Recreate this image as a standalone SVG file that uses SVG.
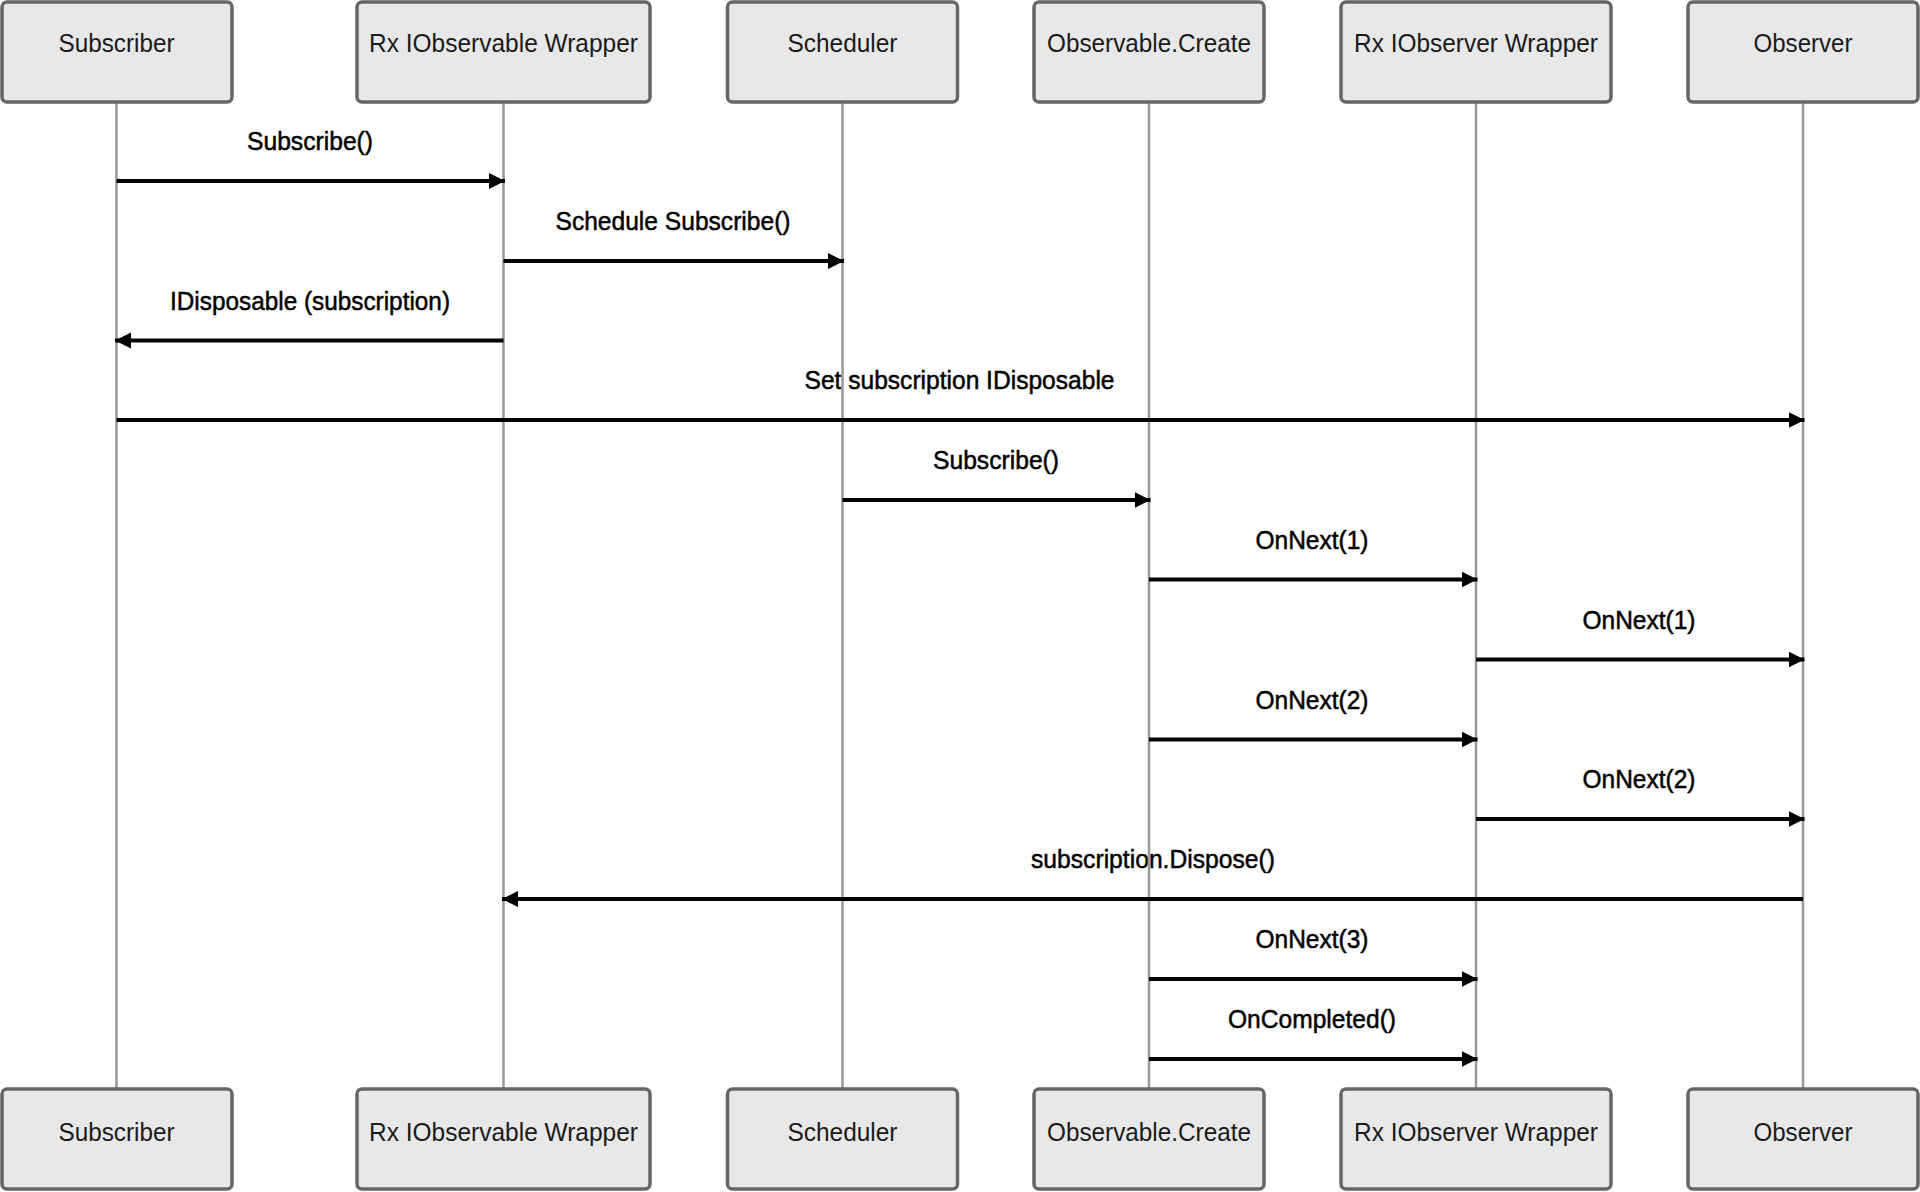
<svg xmlns="http://www.w3.org/2000/svg" width="1920" height="1192" viewBox="0 0 1920 1192">
<style>
.box{fill:#e8e8e8;stroke:#666;stroke-width:3.5}
.bt{font-family:"Liberation Sans",Arial,sans-serif;font-size:26px;fill:#1a1a1a;text-anchor:middle}
.lt{font-family:"Liberation Sans",Arial,sans-serif;font-size:26px;fill:#000;stroke:#000;stroke-width:0.5;text-anchor:middle}
.life{stroke:#999;stroke-width:2.5;fill:none}
.msg{stroke:#000;stroke-width:4;fill:none;marker-end:url(#ah)}
</style>
<defs>
<marker id="ah" markerUnits="userSpaceOnUse" markerWidth="18" markerHeight="18" refX="16" refY="8" orient="auto">
<path d="M0,0 L16,8 L0,16 Z" fill="#000"/>
</marker>
</defs>
<rect width="1920" height="1192" fill="#fff"/>
<g id="labels">
<text class="lt" x="310" y="150" textLength="126" lengthAdjust="spacingAndGlyphs">Subscribe()</text>
<text class="lt" x="673" y="230" textLength="235" lengthAdjust="spacingAndGlyphs">Schedule Subscribe()</text>
<text class="lt" x="310" y="310" textLength="280" lengthAdjust="spacingAndGlyphs">IDisposable (subscription)</text>
<text class="lt" x="959.5" y="389" textLength="310" lengthAdjust="spacingAndGlyphs">Set subscription IDisposable</text>
<text class="lt" x="996" y="469" textLength="126" lengthAdjust="spacingAndGlyphs">Subscribe()</text>
<text class="lt" x="1312" y="549" textLength="113" lengthAdjust="spacingAndGlyphs">OnNext(1)</text>
<text class="lt" x="1639" y="629" textLength="113" lengthAdjust="spacingAndGlyphs">OnNext(1)</text>
<text class="lt" x="1312" y="709" textLength="113" lengthAdjust="spacingAndGlyphs">OnNext(2)</text>
<text class="lt" x="1639" y="788" textLength="113" lengthAdjust="spacingAndGlyphs">OnNext(2)</text>
<text class="lt" x="1153" y="868" textLength="244" lengthAdjust="spacingAndGlyphs">subscription.Dispose()</text>
<text class="lt" x="1312" y="948" textLength="113" lengthAdjust="spacingAndGlyphs">OnNext(3)</text>
<text class="lt" x="1312" y="1028" textLength="168" lengthAdjust="spacingAndGlyphs">OnCompleted()</text>
</g>
<g id="lifelines">
<line class="life" x1="116.5" y1="102" x2="116.5" y2="1088"/>
<line class="life" x1="503.5" y1="102" x2="503.5" y2="1088"/>
<line class="life" x1="842.5" y1="102" x2="842.5" y2="1088"/>
<line class="life" x1="1149" y1="102" x2="1149" y2="1088"/>
<line class="life" x1="1476" y1="102" x2="1476" y2="1088"/>
<line class="life" x1="1803" y1="102" x2="1803" y2="1088"/>
</g>
<g id="connectors">
<line class="msg" x1="116.5" y1="181" x2="505" y2="181"/>
<line class="msg" x1="503.5" y1="261" x2="844" y2="261"/>
<line class="msg" x1="503.5" y1="340.5" x2="115" y2="340.5"/>
<line class="msg" x1="116.5" y1="420" x2="1804.5" y2="420"/>
<line class="msg" x1="842.5" y1="500" x2="1150.5" y2="500"/>
<line class="msg" x1="1149" y1="579.5" x2="1477.5" y2="579.5"/>
<line class="msg" x1="1476" y1="659.5" x2="1804.5" y2="659.5"/>
<line class="msg" x1="1149" y1="739.5" x2="1477.5" y2="739.5"/>
<line class="msg" x1="1476" y1="819" x2="1804.5" y2="819"/>
<line class="msg" x1="1803" y1="899" x2="502" y2="899"/>
<line class="msg" x1="1149" y1="979" x2="1477.5" y2="979"/>
<line class="msg" x1="1149" y1="1059" x2="1477.5" y2="1059"/>
</g>
<g id="subscriber">
<rect class="box" x="2" y="2" width="230" height="100" rx="5"/>
<text class="bt" x="116.5" y="52" textLength="116" lengthAdjust="spacingAndGlyphs">Subscriber</text>
<rect class="box" x="2" y="1089" width="230" height="100" rx="5"/>
<text class="bt" x="116.5" y="1141" textLength="116" lengthAdjust="spacingAndGlyphs">Subscriber</text>
</g>
<g id="rx-iobservable-wrapper">
<rect class="box" x="357" y="2" width="293" height="100" rx="5"/>
<text class="bt" x="503.5" y="52" textLength="269" lengthAdjust="spacingAndGlyphs">Rx IObservable Wrapper</text>
<rect class="box" x="357" y="1089" width="293" height="100" rx="5"/>
<text class="bt" x="503.5" y="1141" textLength="269" lengthAdjust="spacingAndGlyphs">Rx IObservable Wrapper</text>
</g>
<g id="scheduler">
<rect class="box" x="727.5" y="2" width="230" height="100" rx="5"/>
<text class="bt" x="842.5" y="52" textLength="110" lengthAdjust="spacingAndGlyphs">Scheduler</text>
<rect class="box" x="727.5" y="1089" width="230" height="100" rx="5"/>
<text class="bt" x="842.5" y="1141" textLength="110" lengthAdjust="spacingAndGlyphs">Scheduler</text>
</g>
<g id="observable-create">
<rect class="box" x="1034" y="2" width="230" height="100" rx="5"/>
<text class="bt" x="1149" y="52" textLength="204" lengthAdjust="spacingAndGlyphs">Observable.Create</text>
<rect class="box" x="1034" y="1089" width="230" height="100" rx="5"/>
<text class="bt" x="1149" y="1141" textLength="204" lengthAdjust="spacingAndGlyphs">Observable.Create</text>
</g>
<g id="rx-iobserver-wrapper">
<rect class="box" x="1341" y="2" width="270" height="100" rx="5"/>
<text class="bt" x="1476" y="52" textLength="244" lengthAdjust="spacingAndGlyphs">Rx IObserver Wrapper</text>
<rect class="box" x="1341" y="1089" width="270" height="100" rx="5"/>
<text class="bt" x="1476" y="1141" textLength="244" lengthAdjust="spacingAndGlyphs">Rx IObserver Wrapper</text>
</g>
<g id="observer">
<rect class="box" x="1688" y="2" width="230" height="100" rx="5"/>
<text class="bt" x="1803" y="52" textLength="99" lengthAdjust="spacingAndGlyphs">Observer</text>
<rect class="box" x="1688" y="1089" width="230" height="100" rx="5"/>
<text class="bt" x="1803" y="1141" textLength="99" lengthAdjust="spacingAndGlyphs">Observer</text>
</g>
</svg>
